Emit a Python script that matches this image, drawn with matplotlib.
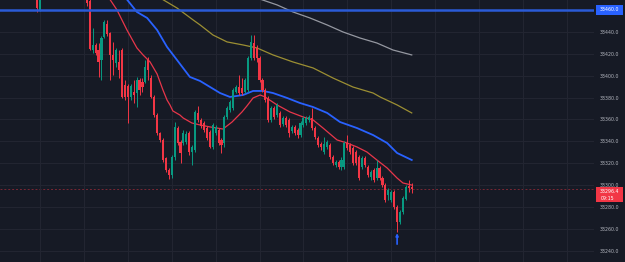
import numpy as np
import matplotlib
matplotlib.use("Agg")
import matplotlib.pyplot as plt
from matplotlib.transforms import blended_transform_factory
from matplotlib.patches import Rectangle

# ---- data (bar number = 1-minute slot; bars 1..15 lie above the visible range) ----
bars = [-1, 0] + list(range(16, 128))
opens = [33478.0, 33460.0,
         33478.0, 33468.0, 33423.4, 33428.0, 33423.4, 33414.3, 33435.3, 33447.2, 33439.0, 33418.9,
         33411.6, 33412.5, 33423.4, 33391.4, 33390.5, 33380.5, 33385.0, 33384.1, 33396.0, 33394.2,
         33394.2, 33414.3, 33397.8, 33380.5, 33364.0, 33347.6, 33341.2, 33324.7, 33313.8, 33309.2,
         33325.6, 33352.1, 33339.4, 33338.4, 33339.4, 33347.6, 33330.2, 33332.0, 33365.9, 33359.5,
         33356.7, 33352.1, 33348.5, 33334.8, 33347.6, 33350.3, 33341.2, 33338.4, 33362.2, 33368.6,
         33370.4, 33385.0, 33389.6, 33388.7, 33385.0, 33386.9, 33416.1, 33429.8, 33425.3, 33416.1,
         33396.0, 33386.9, 33379.6, 33359.5, 33370.4, 33364.0, 33365.9, 33355.8, 33361.3, 33359.5,
         33349.4, 33353.1, 33350.3, 33345.7, 33354.9, 33356.7, 33359.5, 33361.3, 33352.1, 33343.0,
         33337.5, 33330.2, 33334.8, 33336.6, 33325.6, 33318.3, 33321.1, 33316.5, 33316.5, 33338.4,
         33336.6, 33333.9, 33330.2, 33325.6, 33316.5, 33324.7, 33316.5, 33307.4, 33313.8, 33306.4,
         33315.6, 33306.4, 33300.0, 33290.9, 33286.3, 33293.7, 33280.0, 33266.2, 33275.4, 33287.3,
         33299.1, 33298.2]
closes = [33461.8, 33478.0,
          33466.0, 33424.4, 33428.0, 33420.7, 33412.5, 33434.4, 33449.0, 33438.1, 33418.9, 33414.3,
          33423.4, 33405.2, 33380.5, 33380.5, 33380.5, 33390.5, 33382.3, 33396.0, 33386.9, 33389.6,
          33407.9, 33405.2, 33380.5, 33364.0, 33347.6, 33341.2, 33322.9, 33313.8, 33309.2, 33325.6,
          33353.1, 33338.4, 33329.3, 33347.6, 33346.7, 33330.2, 33334.8, 33366.8, 33359.5, 33354.0,
          33350.3, 33343.0, 33334.8, 33354.9, 33353.1, 33338.4, 33336.6, 33362.2, 33370.4, 33375.9,
          33386.9, 33389.6, 33384.1, 33384.1, 33396.0, 33416.1, 33430.8, 33416.1, 33416.1, 33396.0,
          33386.9, 33377.7, 33359.5, 33370.4, 33362.2, 33373.2, 33354.9, 33361.3, 33354.9, 33347.6,
          33353.1, 33347.6, 33345.7, 33356.7, 33361.3, 33361.3, 33362.2, 33352.1, 33343.9, 33336.6,
          33334.8, 33337.5, 33339.4, 33325.6, 33320.2, 33321.1, 33316.5, 33322.9, 33338.4, 33333.9,
          33330.2, 33320.2, 33320.2, 33306.4, 33324.7, 33318.3, 33309.2, 33311.9, 33304.6, 33315.6,
          33306.4, 33300.0, 33286.3, 33295.5, 33293.7, 33280.0, 33266.2, 33275.4, 33288.2, 33298.2,
          33297.3, 33296.4]
highs = [33485.0, 33483.0,
         33482.0, 33470.0, 33443.5, 33429.8, 33429.8, 33436.2, 33450.9, 33450.9, 33439.9, 33430.8,
         33425.3, 33423.4, 33425.3, 33396.0, 33392.4, 33392.4, 33396.0, 33398.8, 33397.8, 33397.8,
         33414.3, 33417.0, 33400.6, 33382.3, 33365.9, 33348.5, 33343.0, 33325.6, 33315.6, 33327.5,
         33357.6, 33354.0, 33341.2, 33350.3, 33349.4, 33349.4, 33336.6, 33368.6, 33372.3, 33361.3,
         33358.5, 33354.0, 33350.3, 33356.7, 33354.9, 33352.1, 33343.0, 33364.0, 33372.3, 33377.7,
         33388.7, 33391.4, 33400.6, 33397.8, 33397.8, 33418.0, 33437.1, 33437.1, 33428.0, 33418.0,
         33397.8, 33388.7, 33381.4, 33372.3, 33372.3, 33375.0, 33367.7, 33363.1, 33363.1, 33361.3,
         33354.9, 33354.9, 33352.1, 33358.5, 33363.1, 33363.1, 33364.0, 33370.4, 33354.0, 33344.8,
         33339.4, 33343.9, 33341.2, 33338.4, 33327.5, 33322.9, 33322.9, 33325.6, 33340.3, 33345.7,
         33338.4, 33335.7, 33332.0, 33327.5, 33326.6, 33326.6, 33318.3, 33313.8, 33315.6, 33322.9,
         33317.4, 33308.3, 33301.9, 33297.3, 33295.5, 33295.5, 33281.8, 33277.2, 33290.0, 33300.0,
         33304.6, 33301.9]
lows = [33458.2, 33459.0,
        33464.0, 33423.4, 33420.7, 33418.9, 33398.8, 33396.0, 33434.4, 33436.2, 33396.0, 33400.6,
        33407.9, 33397.8, 33379.6, 33377.7, 33356.7, 33377.7, 33375.0, 33371.3, 33382.3, 33385.0,
        33393.3, 33396.0, 33379.6, 33362.2, 33345.7, 33339.4, 33321.1, 33311.9, 33305.5, 33306.4,
        33322.9, 33336.6, 33320.2, 33336.6, 33337.5, 33327.5, 33318.3, 33330.2, 33357.6, 33352.1,
        33348.5, 33341.2, 33333.9, 33332.9, 33345.7, 33336.6, 33329.3, 33334.8, 33360.4, 33366.8,
        33368.6, 33384.1, 33382.3, 33382.3, 33384.1, 33385.0, 33414.3, 33414.3, 33412.5, 33394.2,
        33385.0, 33375.9, 33357.6, 33357.6, 33360.4, 33362.2, 33353.1, 33354.0, 33353.1, 33343.9,
        33347.6, 33345.7, 33343.0, 33343.9, 33353.1, 33354.9, 33357.6, 33350.3, 33342.1, 33334.8,
        33332.0, 33328.4, 33332.9, 33323.8, 33318.3, 33316.5, 33314.7, 33313.8, 33314.7, 33332.0,
        33328.4, 33318.3, 33318.3, 33304.6, 33314.7, 33316.5, 33307.4, 33304.6, 33302.8, 33304.6,
        33304.6, 33298.2, 33284.5, 33286.3, 33284.5, 33278.1, 33257.1, 33264.4, 33273.5, 33286.3,
        33293.7, 33292.8]

# moving averages (bar position, value)
ma_red_x = [23.3, 26.3, 29.7, 33.1, 35.2, 37.6, 40, 42, 43.4, 44.4, 45.4, 47.8, 48.9, 51.9, 54.7,
            58.1, 60.5, 62.5, 65.6, 69, 70.7, 72.8, 75.2, 76.9, 81, 85.4, 89.9, 93.3, 96.7, 101.5,
            104.9, 108.3, 111.7, 115.1, 118.6, 122, 124, 127]
ma_red_y = [33472.0, 33460.0, 33441.7, 33425.3, 33418.9, 33412.5, 33401.5, 33386.9, 33377.7,
            33373.2, 33367.7, 33364.0, 33361.3, 33356.7, 33354.9, 33353.1, 33352.1, 33351.2,
            33357.6, 33366.8, 33372.3, 33379.6, 33382.3, 33380.5, 33373.2, 33366.8, 33362.2,
            33359.5, 33352.1, 33341.2, 33338.4, 33334.8, 33330.2, 33322.9, 33315.6, 33306.4,
            33301.9, 33300.0]
ma_blue_x = [29, 33.1, 36.6, 40, 43.4, 46.8, 51.2, 54.7, 58.1, 61.5, 64.9, 69.4, 72.8, 76.2, 79.6,
             84.4, 88.8, 93.3, 98.1, 102.5, 108.3, 113.8, 118.6, 122, 127]
ma_blue_y = [33471.9, 33458.2, 33452.7, 33441.7, 33426.2, 33414.3, 33398.8, 33395.1, 33389.6,
             33384.1, 33380.5, 33382.3, 33386.0, 33386.0, 33384.1, 33379.6, 33375.0, 33371.3,
             33365.9, 33357.6, 33352.1, 33345.7, 33338.4, 33329.3, 33322.9]
ma_yellow_x = [41, 46.8, 52.3, 54.7, 59.1, 63.9, 69.4, 74.1, 79.6, 86.4, 93.3, 100.1, 106.9, 113.8,
               116.2, 122, 127]
ma_yellow_y = [33471.0, 33461.8, 33450.9, 33446.3, 33437.1, 33430.8, 33428.0, 33425.3, 33418.9,
               33412.5, 33407.0, 33397.8, 33389.6, 33384.1, 33380.5, 33373.2, 33365.9]
ma_white_x = [73, 81, 86.4, 92.2, 98.1, 103.5, 109.3, 115.1, 120.6, 127]
ma_white_y = [33471.9, 33464.6, 33458.2, 33452.7, 33446.3, 33439.9, 33434.4, 33429.8, 33423.4,
              33418.9]

level_line = 33460.0
last_price = 33296.4
countdown = "09:15"
signal_bar = 122
y_ticks = [33240, 33260, 33280, 33300, 33320, 33340, 33360, 33380, 33400, 33420, 33440, 33460]

# ---- style ----
BG = "#161a25"
GRID = "#232632"
UP = "#089981"
DOWN = "#f23645"

fig = plt.figure(figsize=(6.25, 2.62), dpi=100, facecolor=BG)
ax = fig.add_axes([0, 0, 594 / 625, 1], facecolor=BG)

o = np.array(opens); c = np.array(closes); h = np.array(highs); l = np.array(lows)
x = np.array(bars, dtype=float)
cols = np.where(c >= o, UP, DOWN)

ax.vlines(x, l, h, colors=cols, linewidth=0.7, zorder=3)
body = np.where(np.abs(c - o) < 0.8, 0.8, np.abs(c - o))
ax.bar(x, body, bottom=np.minimum(o, c), width=0.72, color=cols, linewidth=0, zorder=4)

ax.plot(ma_white_x, ma_white_y, color="#9598a1", lw=0.9, zorder=2)
ax.plot(ma_yellow_x, ma_yellow_y, color="#9c8f33", lw=0.9, zorder=2)
ax.plot(ma_blue_x, ma_blue_y, color="#2962ff", lw=1.3, zorder=2)
ax.plot(ma_red_x, ma_red_y, color="#e8364a", lw=0.9, zorder=2)

ax.axhline(level_line, color="#2a5bd7", lw=1.8, zorder=5)
ax.axhline(last_price, color="#f23645", lw=0.7, alpha=0.45, dashes=(2, 2), zorder=1)

ax.annotate("", xy=(signal_bar, 33256.0), xytext=(signal_bar, 33246.0),
            arrowprops=dict(arrowstyle="-|>", color="#2962ff", lw=1.2, mutation_scale=3.5,
                            shrinkA=0, shrinkB=0))

ax.set_xlim(-13.67, 189.27)
ax.set_ylim(33229.7, 33469.1)
ax.set_xticks(np.arange(0, 190, 15))
ax.set_yticks(y_ticks)
ax.grid(True, color=GRID, lw=0.7)
ax.tick_params(axis="x", length=0, labelbottom=False)
ax.yaxis.tick_right()
ax.tick_params(axis="y", length=0, pad=4, labelsize=3.4, labelcolor="#b2b5be")
ax.set_yticklabels([f"{v:.1f}" for v in y_ticks])
for s in ax.spines.values():
    s.set_visible(False)

tr = blended_transform_factory(ax.transAxes, ax.transData)
ax.add_patch(Rectangle((1.003, level_line - 4.6), 0.046, 9.2, transform=tr, clip_on=False,
                       facecolor="#2962ff", edgecolor="none", zorder=10))
ax.text(1.026, level_line, f"{level_line:.1f}", transform=tr, ha="center", va="center",
        fontsize=3.4, color="white", zorder=11, clip_on=False)
ax.add_patch(Rectangle((1.003, last_price - 11.5), 0.046, 13.0, transform=tr, clip_on=False,
                       facecolor="#f23645", edgecolor="none", zorder=10))
ax.text(1.026, last_price - 2.6, f"{last_price:.1f}", transform=tr, ha="center", va="center",
        fontsize=3.4, color="white", zorder=11, clip_on=False)
ax.text(1.022, last_price - 8.4, countdown, transform=tr, ha="center", va="center",
        fontsize=3.4, color="white", zorder=11, clip_on=False)

fig.savefig("out.png", dpi=100, facecolor=BG)
